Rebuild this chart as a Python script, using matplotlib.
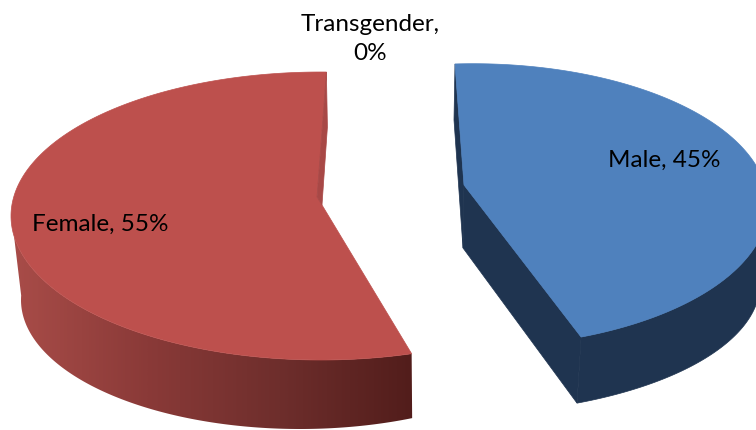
import matplotlib
matplotlib.use("Agg")
import matplotlib.pyplot as plt
from matplotlib.colors import LinearSegmentedColormap
from matplotlib.patches import Polygon
import numpy as np

labels = ["Male", "Female", "Transgender"]
values = [45, 55, 0]

plt.rcParams['font.family'] = ['Lato', 'DejaVu Sans']

# each slice has its own ellipse, the 3d perspective in the original is not a true circle
# top = top face (cx, cy, a, b), bottom = lower edge of the side wall
start_male = -3.5
start_female = 163.0
top_male = (473, 205.3, 295, 141.6)
bottom_male = (455, 284, 305, 130)
top_female = (321, 216, 310, 144)
bottom_female = (300, 300, 279, 129)
apex_male = (464, 185)
apex_female = (322, 205)


def rim(ell, a1, a2, n=200):
    # angles in degrees, clockwise from the top of the ellipse
    t = np.radians(np.linspace(a1, a2, n))
    return np.column_stack([ell[0] + ell[2] * np.sin(t), ell[1] - ell[3] * np.cos(t)])


fig = plt.figure(figsize=(7.56, 4.30), dpi=100)
ax = fig.add_axes([0, 0, 1, 1])

total = sum(values)
sweep_male = values[0] / total * 360
sweep_female = values[1] / total * 360
end_male = start_male + sweep_male
end_female = start_female + sweep_female

# male, flat dark walls
dark_blue = "#1f3450"
top_m = rim(top_male, start_male, end_male)
ax.fill([apex_male[0], apex_male[0] - 1, bottom_male[0] + 122, top_m[-1][0]],
        [apex_male[1], apex_male[1] + 63, rim(bottom_male, 156.4, 156.4, 1)[0][1], top_m[-1][1]],
        color=dark_blue, lw=0.5)
ax.fill([top_m[0][0], top_m[0][0] - 1, apex_male[0] - 1, apex_male[0]],
        [top_m[0][1], top_m[0][1] + 56, apex_male[1] + 63, apex_male[1]],
        color=dark_blue, lw=0.5)
side_top = rim(top_male, end_male, 100)
side_bottom = rim(bottom_male, 156.4, 84)
side = np.vstack([side_top, side_bottom[::-1]])
ax.fill(side[:, 0], side[:, 1], color=dark_blue, lw=0.5)
ax.fill(*np.vstack([[apex_male], top_m]).T, color="#4f81bd", lw=0.5)

# female, wall gets darker towards the right hand side
reds = LinearSegmentedColormap.from_list("reds", ["#a84c48", "#8a3a38", "#6e2e2c", "#521d1b"])
side_top = rim(top_female, start_female, 262)
side_bottom = rim(bottom_female, 156.3, 272)
side = np.vstack([side_top, side_bottom[::-1]])
wall = Polygon(side, closed=True, transform=ax.transData, fc="none", ec="none")
ax.add_patch(wall)
shade = np.linspace(0, 1, 400).reshape(1, -1)
im = ax.imshow(shade, cmap=reds, extent=(side[:, 0].min(), side[:, 0].max(), 430, 200), aspect="auto")
im.set_clip_path(wall)

top_f = rim(top_female, start_female, end_female)
# face is pulled in a bit next to the apex, the inner wall shows in that gap
ax.fill(*np.vstack([[apex_female], [[apex_female[0] - 5, apex_female[1] - 8]], top_f[::-1]]).T,
        color="#bd504d", lw=0.5)
ax.fill([top_f[-1][0], top_f[-1][0] + 1, apex_female[0], apex_female[0] - 5],
        [top_f[-1][1], top_f[-1][1] + 55, apex_female[1], apex_female[1] - 8],
        color="#a84846", lw=0.5)

ax.set_xlim(0, 756)
ax.set_ylim(430, 0)
ax.axis("off")

# data labels
ax.text(664, 160, "%s, %d%%" % (labels[0], values[0]), ha="center", va="center", fontsize=17.5, color="black")
ax.text(100, 224, "%s, %d%%" % (labels[1], values[1]), ha="center", va="center", fontsize=17.5, color="black")
ax.text(370, 39, "%s,\n%d%%" % (labels[2], values[2]), ha="center", va="center", fontsize=17.5, color="black", linespacing=1.45)

fig.savefig("out.png", dpi=100)
